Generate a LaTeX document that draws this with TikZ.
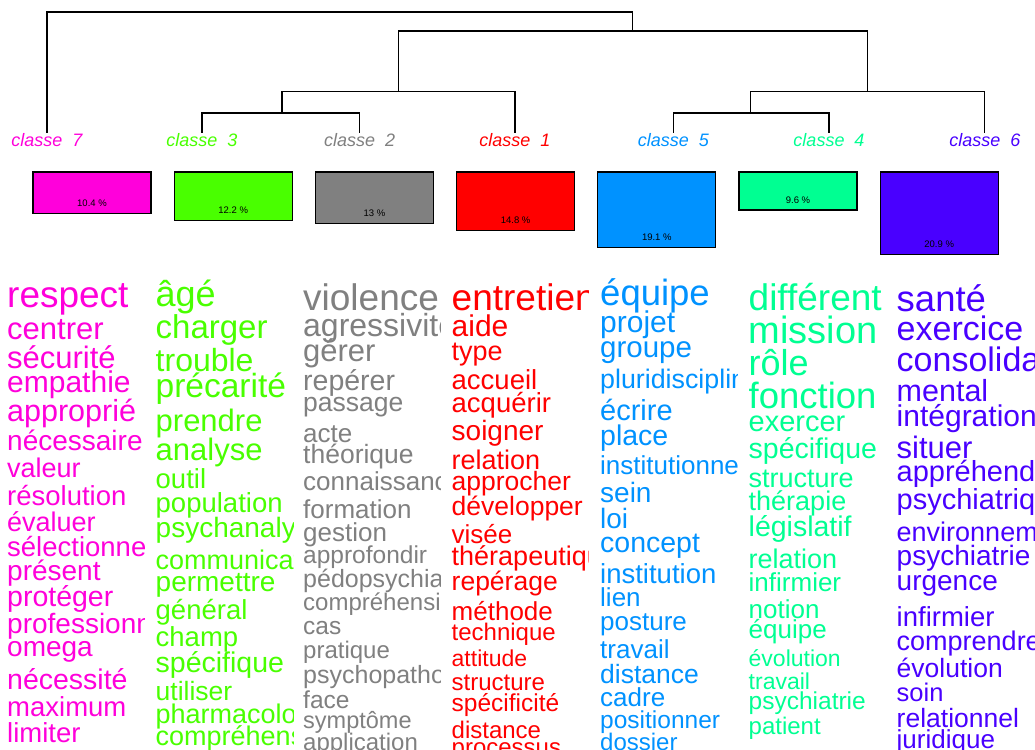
\documentclass[tikz,border=0pt]{standalone}
\usepackage{fontspec}
\setmainfont{Liberation Sans}
\definecolor{c7}{HTML}{FF00DB}
\definecolor{c3}{HTML}{49FF00}
\definecolor{c2}{HTML}{808080}
\definecolor{c1}{HTML}{FF0000}
\definecolor{c5}{HTML}{0092FF}
\definecolor{c4}{HTML}{00FF92}
\definecolor{c6}{HTML}{4900FF}
\newcounter{wc}
\newcommand\wrd[3]{\stepcounter{wc}\node[word,font=\fontsize{#2}{#2}\selectfont] (w\arabic{wc}) at (\colx,#1) {#3};}
\begin{document}
\begin{tikzpicture}[x=1pt,y=-1pt,
  link/.style={draw=black,line width=1.3pt,line cap=rect},
  pbox/.style={draw=black,line width=1.2pt,anchor=north west,minimum width=118pt,inner sep=0pt,outer sep=0pt},
  pct/.style={font=\fontsize{9.5}{9.5}\selectfont,inner sep=0pt,text=black},
  clab/.style={font=\itshape\fontsize{18}{18}\selectfont,anchor=base,inner sep=0pt},
  word/.style={anchor=base west,inner sep=0pt}]
\useasboundingbox (0,0) rectangle (1035,749);
\fill[white] (0,0) rectangle (1035,749);
\clip (0,0) rectangle (1035,749);
% dendrogram
\coordinate (root) at (340,12);
\coordinate (m2) at (632.5,31);
\coordinate (mA) at (398.7,91.7);
\coordinate (mB) at (867.5,91.7);
\coordinate (mA1) at (282,113);
\coordinate (mB1) at (750.3,113);
\coordinate (L7) at (47,132);
\coordinate (L3) at (202,132);
\coordinate (L2) at (359.6,132);
\coordinate (L1) at (515,132);
\coordinate (L5) at (673.5,132);
\coordinate (L4) at (829,132);
\coordinate (L6) at (984.8,132);
\draw[link] (L7) |- (root);
\draw[link] (m2) |- (root);
\draw[link] (mA) |- (m2);
\draw[link] (mB) |- (m2);
\draw[link] (mA1) |- (mA);
\draw[link] (L1) |- (mA);
\draw[link] (L3) |- (mA1);
\draw[link] (L2) |- (mA1);
\draw[link] (mB1) |- (mB);
\draw[link] (L6) |- (mB);
\draw[link] (L5) |- (mB1);
\draw[link] (L4) |- (mB1);
% class labels
\begin{scope}
\clip (0,120) rectangle (1035,146);
\node[clab,text=c7] (lab7) at (47,146.5) {classe~~7};
\node[clab,text=c3] (lab3) at (202,146.5) {classe~~3};
\node[clab,text=c2] (lab2) at (359.6,146.5) {classe~~2};
\node[clab,text=c1] (lab1) at (515,146.5) {classe~~1};
\node[clab,text=c5] (lab5) at (673.5,146.5) {classe~~5};
\node[clab,text=c4] (lab4) at (829,146.5) {classe~~4};
\node[clab,text=c6] (lab6) at (984.8,146.5) {classe~~6};
\end{scope}
% percentage boxes
\node[pbox,fill=c7,minimum height=41.1pt] (b7) at (33,172) {};
\node[pbox,fill=c3,minimum height=48.2pt] (b3) at (174.2,172) {};
\node[pbox,fill=c2,minimum height=51.35pt] (b2) at (315.4,172) {};
\node[pbox,fill=c1,minimum height=58.5pt] (b1) at (456.6,172) {};
\node[pbox,fill=c5,minimum height=75.4pt] (b5) at (597.8,172) {};
\node[pbox,fill=c4,minimum height=37.9pt] (b4) at (739,172) {};
\node[pbox,fill=c6,minimum height=82.6pt] (b6) at (880.2,172) {};
\node[pct] (p7) at ([yshift=10pt]b7.south) {10.4 \%};
\node[pct] (p3) at ([yshift=10pt]b3.south) {12.2 \%};
\node[pct] (p2) at ([yshift=10pt]b2.south) {13 \%};
\node[pct] (p1) at ([yshift=10pt]b1.south) {14.8 \%};
\node[pct] (p5) at ([yshift=10pt]b5.south) {19.1 \%};
\node[pct] (p4) at ([yshift=10pt]b4.south) {9.6 \%};
\node[pct] (p6) at ([yshift=10pt]b6.south) {20.9 \%};
% column classe 7
\begin{scope}[text=c7]
\clip (7,270) rectangle (144.5,749);
\def\colx{7}
\wrd{307}{37}{respect}
\wrd{339}{31}{centrer}
\wrd{368}{31}{sécurité}
\wrd{392}{30}{empathie}
\wrd{421}{30.5}{approprié}
\wrd{450.7}{28}{nécessaire}
\wrd{477.7}{27}{valeur}
\wrd{505}{27.5}{résolution}
\wrd{531.7}{27}{évaluer}
\wrd{556.7}{27.5}{sélectionner}
\wrd{580}{28}{présent}
\wrd{606.7}{28.5}{protéger}
\wrd{633}{28}{professionnel}
\wrd{656.7}{28}{omega}
\wrd{689}{28.5}{nécessité}
\wrd{716}{27.5}{maximum}
\wrd{742}{27.5}{limiter}
\end{scope}
% column classe 3
\begin{scope}[text=c3]
\clip (155.5,270) rectangle (293,749);
\def\colx{155.5}
\wrd{306.7}{36}{âgé}
\wrd{338}{33}{charger}
\wrd{371.7}{32}{trouble}
\wrd{397.7}{33.5}{précarité}
\wrd{431.7}{31}{prendre}
\wrd{460}{31}{analyse}
\wrd{488}{27.5}{outil}
\wrd{512.7}{27.5}{population}
\wrd{537.7}{28}{psychanalyse}
\wrd{569}{27}{communication}
\wrd{591.7}{28}{permettre}
\wrd{619}{27.5}{général}
\wrd{646.7}{27.5}{champ}
\wrd{672.7}{28.5}{spécifique}
\wrd{700.7}{26.5}{utiliser}
\wrd{723}{27}{pharmacologie}
\wrd{745}{27}{compréhension}
\end{scope}
% column classe 2
\begin{scope}[text=c2]
\clip (303,270) rectangle (440.5,749);
\def\colx{303}
\wrd{310.7}{37}{violence}
\wrd{336}{32}{agressivité}
\wrd{361}{31}{gérer}
\wrd{390}{28.5}{repérer}
\wrd{411.7}{26.5}{passage}
\wrd{442.7}{26}{acte}
\wrd{463.3}{26.5}{théorique}
\wrd{490}{26}{connaissance}
\wrd{518}{26}{formation}
\wrd{541.7}{26}{gestion}
\wrd{563}{24.5}{approfondir}
\wrd{587}{25}{pédopsychiatrie}
\wrd{610.7}{24}{compréhension}
\wrd{634}{24.5}{cas}
\wrd{658}{24}{pratique}
\wrd{683}{25}{psychopathologie}
\wrd{708}{24.5}{face}
\wrd{728}{23.5}{symptôme}
\wrd{750}{24}{application}
\end{scope}
% column classe 1
\begin{scope}[text=c1]
\clip (451.5,270) rectangle (588,749);
\def\colx{451.5}
\wrd{310.7}{37}{entretien}
\wrd{336}{30}{aide}
\wrd{360}{27}{type}
\wrd{389}{27.5}{accueil}
\wrd{412.7}{27.5}{acquérir}
\wrd{440.7}{28}{soigner}
\wrd{469}{27}{relation}
\wrd{490}{26.5}{approcher}
\wrd{515}{26.5}{développer}
\wrd{543}{26}{visée}
\wrd{565}{27}{thérapeutique}
\wrd{590}{26.5}{repérage}
\wrd{620.7}{26}{méthode}
\wrd{640}{24}{technique}
\wrd{666.7}{23}{attitude}
\wrd{690.7}{24}{structure}
\wrd{711.7}{24.5}{spécificité}
\wrd{738}{24}{distance}
\wrd{755}{24}{processus}
\end{scope}
% column classe 5
\begin{scope}[text=c5]
\clip (600,270) rectangle (737.5,749);
\def\colx{600}
\wrd{305.7}{36.5}{équipe}
\wrd{332.7}{30}{projet}
\wrd{357}{29.5}{groupe}
\wrd{388}{26.8}{pluridisciplinaire}
\wrd{420.7}{29}{écrire}
\wrd{445.7}{28.5}{place}
\wrd{474}{26}{institutionnel}
\wrd{502}{28}{sein}
\wrd{528}{28}{loi}
\wrd{552.7}{28.5}{concept}
\wrd{583}{27.5}{institution}
\wrd{606.7}{26}{lien}
\wrd{630}{26}{posture}
\wrd{658}{26}{travail}
\wrd{683}{26.5}{distance}
\wrd{706.7}{26}{cadre}
\wrd{728}{24.5}{positionner}
\wrd{750}{24}{dossier}
\end{scope}
% column classe 4
\begin{scope}[text=c4]
\clip (748.5,270) rectangle (886,749);
\def\colx{748.5}
\wrd{310}{37}{différent}
\wrd{343}{38}{mission}
\wrd{375}{36}{rôle}
\wrd{408}{36.5}{fonction}
\wrd{431.7}{29}{exercer}
\wrd{458}{28.5}{spécifique}
\wrd{487.7}{27}{structure}
\wrd{510}{27}{thérapie}
\wrd{536.7}{28.5}{législatif}
\wrd{568}{27}{relation}
\wrd{591.7}{26}{infirmier}
\wrd{618}{26}{notion}
\wrd{638}{26}{équipe}
\wrd{666}{23}{évolution}
\wrd{689}{23}{travail}
\wrd{709}{24.5}{psychiatrie}
\wrd{734}{24}{patient}
\end{scope}
% column classe 6
\begin{scope}[text=c6]
\clip (896.5,270) rectangle (1035,749);
\def\colx{896.5}
\wrd{311}{36.5}{santé}
\wrd{340}{34}{exercice}
\wrd{371.7}{34}{consolidation}
\wrd{401}{30.5}{mental}
\wrd{426}{30}{intégration}
\wrd{458}{31}{situer}
\wrd{481.7}{29}{appréhender}
\wrd{509}{29}{psychiatrique}
\wrd{541.7}{27}{environnement}
\wrd{565}{28}{psychiatrie}
\wrd{590}{28}{urgence}
\wrd{626}{27.5}{infirmier}
\wrd{650}{27}{comprendre}
\wrd{677}{26.5}{évolution}
\wrd{701.7}{25.5}{soin}
\wrd{727}{26.5}{relationnel}
\wrd{748}{26}{juridique}
\end{scope}
\end{tikzpicture}
\end{document}
